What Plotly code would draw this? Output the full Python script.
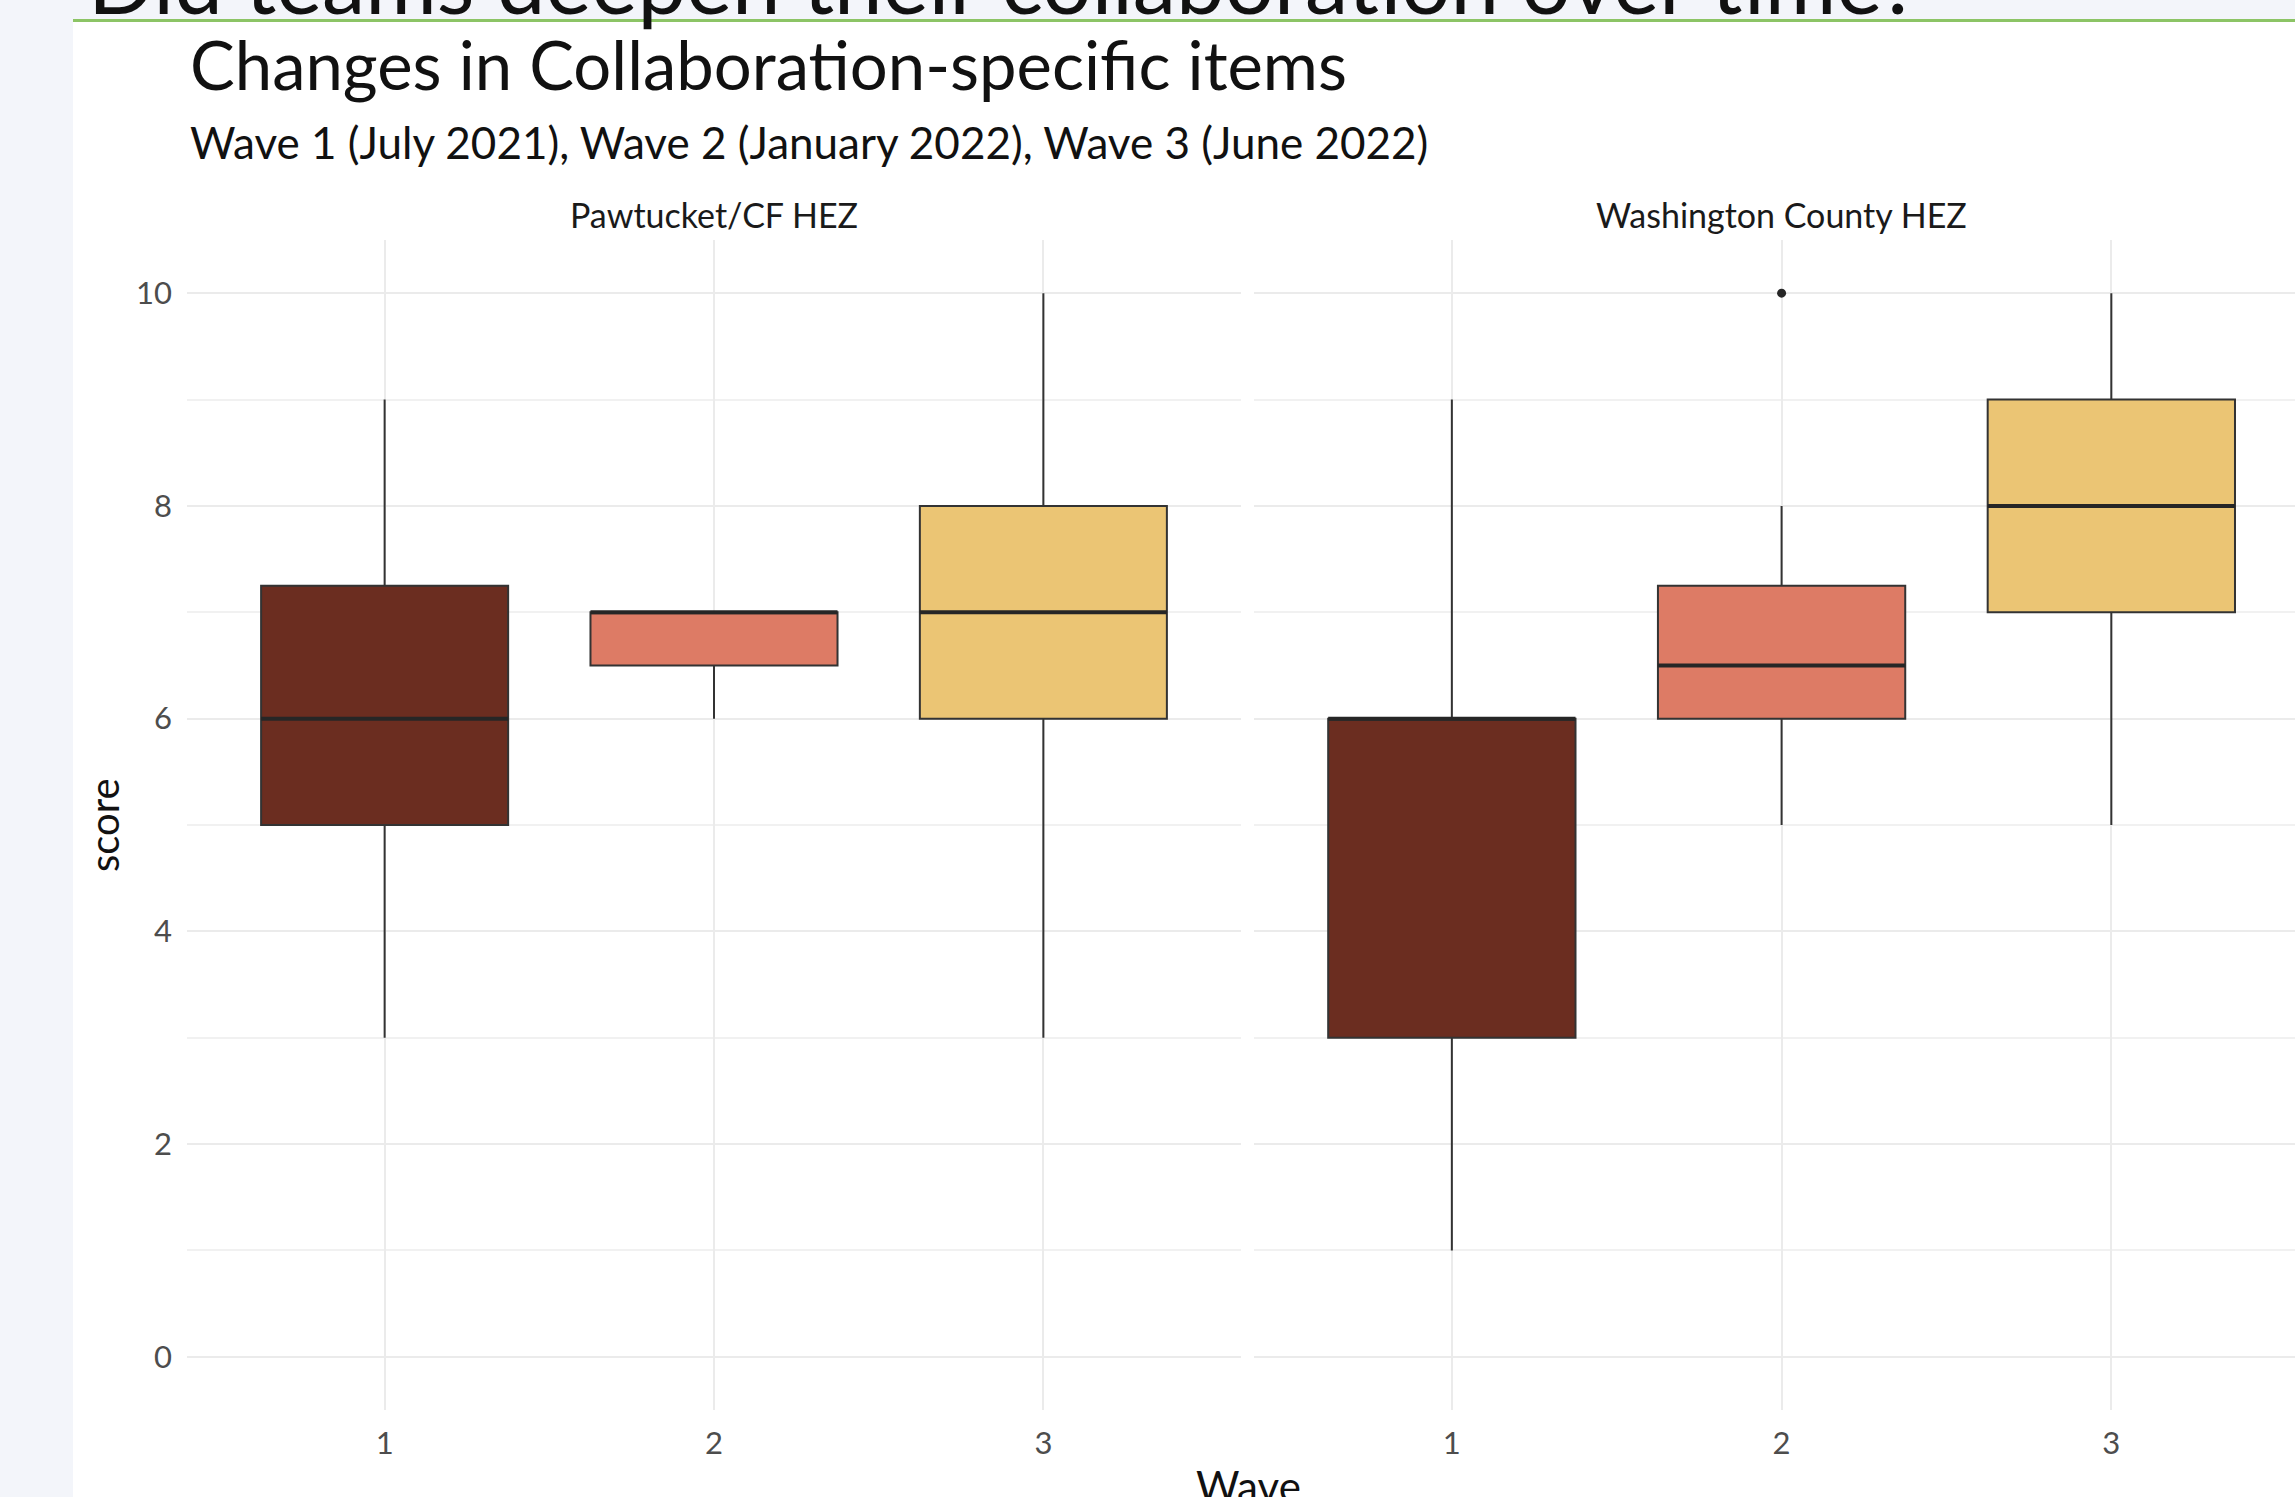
import plotly.graph_objects as go
from plotly.subplots import make_subplots

W, H = 2295, 1497

# ---- data -------------------------------------------------------------
waves = [1, 2, 3]
wave_labels = ["1", "2", "3"]
wave_colors = ["#6B2D20", "#DD7B65", "#EBC574"]
panel_titles = ["Pawtucket/CF HEZ", "Washington County HEZ"]

# Pawtucket/CF HEZ box statistics per wave
paw_lower = [3, 6, 3]
paw_q1 = [5, 6.5, 6]
paw_median = [6, 7, 7]
paw_q3 = [7.25, 7, 8]
paw_upper = [9, 7, 10]
paw_out_wave = []
paw_out_score = []

# Washington County HEZ box statistics per wave
wash_lower = [1, 5, 5]
wash_q1 = [3, 6, 7]
wash_median = [6, 6.5, 8]
wash_q3 = [6, 7.25, 9]
wash_upper = [9, 8, 10]
wash_out_wave = [2]
wash_out_score = [10]

y_ticks = [0, 2, 4, 6, 8, 10]

# ---- styling ----------------------------------------------------------
FONT = "Lato"
BOX_W = 0.75
OUTLINE = "#333333"
GRID = "#EBEBEB"
MINOR_GRID = "#F1F1F1"

panels = [
    (paw_lower, paw_q1, paw_median, paw_q3, paw_upper, paw_out_wave, paw_out_score),
    (wash_lower, wash_q1, wash_median, wash_q3, wash_upper, wash_out_wave, wash_out_score),
]

fig = make_subplots(rows=1, cols=2, shared_yaxes=True)

for col, (lo, q1, med, q3, hi, ow, os_) in enumerate(panels, start=1):
    for i, w in enumerate(waves):
        fig.add_trace(
            go.Box(
                x=[w],
                lowerfence=[lo[i]],
                q1=[q1[i]],
                median=[med[i]],
                q3=[q3[i]],
                upperfence=[hi[i]],
                width=BOX_W,
                fillcolor=wave_colors[i],
                line=dict(color=OUTLINE, width=2),
                whiskerwidth=0,
                boxpoints=False,
                hoverinfo="skip",
                showlegend=False,
            ),
            row=1, col=col,
        )
        # thicker median bar, as in ggplot's boxplot
        fig.add_trace(
            go.Scatter(
                x=[w - BOX_W / 2, w + BOX_W / 2],
                y=[med[i], med[i]],
                mode="lines",
                line=dict(color="#262626", width=4),
                hoverinfo="skip",
                showlegend=False,
            ),
            row=1, col=col,
        )
    if ow:
        fig.add_trace(
            go.Scatter(
                x=ow, y=os_, mode="markers",
                marker=dict(color="#262626", size=9),
                hoverinfo="skip", showlegend=False,
            ),
            row=1, col=col,
        )

xaxis_common = dict(
    tickmode="array", tickvals=waves, ticktext=wave_labels,
    showgrid=True, gridcolor=GRID, gridwidth=2,
    zeroline=False, showline=False, ticks="",
    tickfont=dict(family=FONT, size=31, color="#4D4D4D"),
    ticklabelstandoff=12,
)
yaxis_common = dict(
    range=[-0.5, 10.5], tickmode="array", tickvals=y_ticks,
    showgrid=True, gridcolor=GRID, gridwidth=2,
    minor=dict(dtick=1, showgrid=True, gridcolor=MINOR_GRID, gridwidth=1.5),
    zeroline=False, showline=False, ticks="",
    tickfont=dict(family=FONT, size=31, color="#4D4D4D"),
    domain=[87 / H, 1257 / H],
)

fig.update_layout(
    xaxis=dict(xaxis_common, domain=[187 / W, 1241 / W], range=[0.4, 3.6]),
    xaxis2=dict(xaxis_common, domain=[1254 / W, 1.0], range=[0.4, 3.557]),
    yaxis=dict(yaxis_common, ticklabelstandoff=14),
    yaxis2=dict(yaxis_common, showticklabels=False),
)

# slide chrome: grey side strip, grey header band and green rule
shapes = [
    dict(type="rect", xref="paper", yref="paper", x0=0, x1=73 / W, y0=0, y1=1,
         fillcolor="#F3F5FA", line=dict(width=0), layer="below"),
    dict(type="rect", xref="paper", yref="paper", x0=0, x1=1, y0=1 - 19 / H, y1=1,
         fillcolor="#F3F5FA", line=dict(width=0), layer="below"),
    dict(type="line", xref="paper", yref="paper", x0=73 / W, x1=1,
         y0=1 - 20.5 / H, y1=1 - 20.5 / H,
         line=dict(color="#8CC465", width=3), layer="below"),
]

annotations = [
    # slide heading (runs off the top edge)
    dict(text="Did teams deepen their collaboration over time?",
         x=86 / W, y=1 - (-19) / H, xref="paper", yref="paper",
         xanchor="left", yanchor="middle", showarrow=False,
         font=dict(family=FONT, size=87, color="#111111")),
    dict(text="Changes in Collaboration-specific items",
         x=188 / W, y=1 - 64 / H, xref="paper", yref="paper",
         xanchor="left", yanchor="middle", showarrow=False,
         font=dict(family=FONT, size=67, color="#111111")),
    dict(text="Wave 1 (July 2021), Wave 2 (January 2022), Wave 3 (June 2022)",
         x=188 / W, y=1 - 142 / H, xref="paper", yref="paper",
         xanchor="left", yanchor="middle", showarrow=False,
         font=dict(family=FONT, size=44, color="#111111")),
    dict(text=panel_titles[0],
         x=(187 + 1241) / 2 / W, y=1 - 214 / H, xref="paper", yref="paper",
         xanchor="center", yanchor="middle", showarrow=False,
         font=dict(family=FONT, size=34, color="#1A1A1A")),
    dict(text=panel_titles[1],
         x=(1254 + 2309) / 2 / W, y=1 - 214 / H, xref="paper", yref="paper",
         xanchor="center", yanchor="middle", showarrow=False,
         font=dict(family=FONT, size=34, color="#1A1A1A")),
    dict(text="score", textangle=-90,
         x=104 / W, y=1 - 825 / H, xref="paper", yref="paper",
         xanchor="center", yanchor="middle", showarrow=False,
         font=dict(family=FONT, size=40, color="#111111")),
    dict(text="Wave",
         x=1248 / W, y=1 - 1459 / H, xref="paper", yref="paper",
         xanchor="center", yanchor="top", showarrow=False,
         font=dict(family=FONT, size=42, color="#111111")),
]

fig.update_layout(
    width=W, height=H,
    margin=dict(l=0, r=0, t=0, b=0),
    paper_bgcolor="white", plot_bgcolor="white",
    showlegend=False,
    shapes=shapes,
    annotations=annotations,
    boxmode="overlay",
)

fig.write_html("out.html", config={"displayModeBar": False})
